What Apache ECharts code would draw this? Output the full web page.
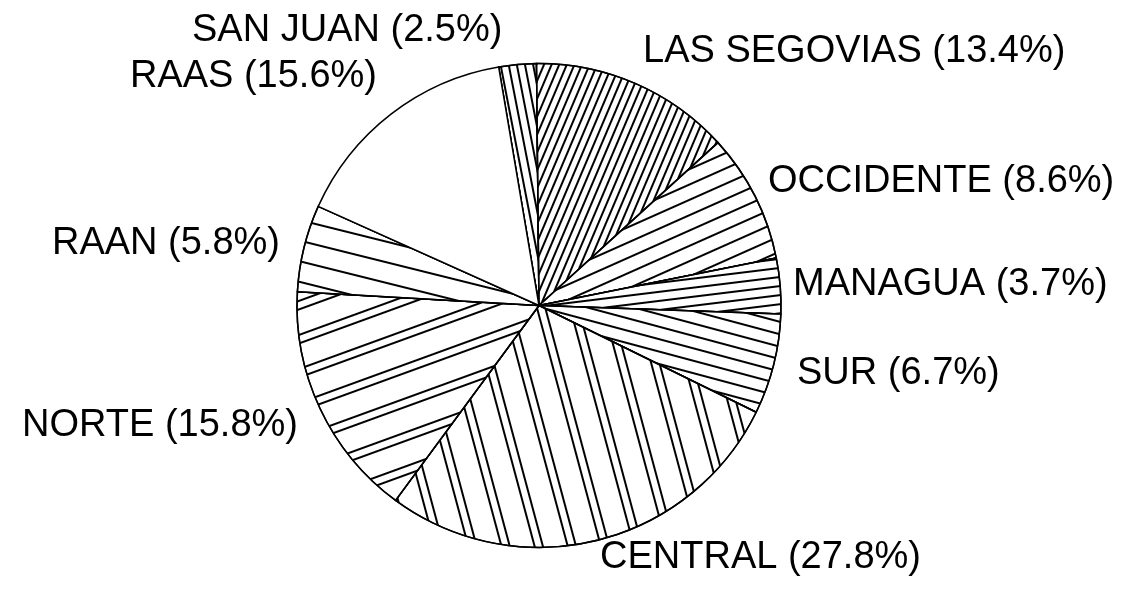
<!DOCTYPE html>
<html>
<head>
<meta charset="utf-8">
<title>Regiones</title>
<script src="https://cdn.jsdelivr.net/npm/echarts@6/dist/echarts.min.js"></script>
<style>
  html, body { margin: 0; padding: 0; background: #fff; }
  #chart { width: 1138px; height: 596px; }
</style>
</head>
<body>
<div id="chart"></div>
<script>
// datos (porcentajes)
const regions = ["SAN JUAN", "LAS SEGOVIAS", "OCCIDENTE", "MANAGUA", "SUR", "CENTRAL", "NORTE", "RAAN", "RAAS"];
const shares = [2.5, 13.4, 8.6, 3.7, 6.7, 27.8, 15.8, 5.8, 15.6];

// rayado de cada sector: angulo de las lineas (grados, positivo = sube a la derecha) y patron perpendicular
const hatchAngle = [-79, 67, 24, 7, -15, -75, 20, -14, 0];
const hatchDash = [
  [1.5, 5.5],
  [1.5, 4.5],
  [1.5, 11.5],
  [1.5, 6.5],
  [1.5, 9.5],
  [1.5, 5.5, 1.5, 22],
  [1.5, 6, 1.5, 22],
  [1.5, 18],
  null,
];

// donde va cada etiqueta: [x, y, alineacion]
const labelAnchor = [
  [192, 31, "left"],
  [643, 52, "left"],
  [768, 182, "left"],
  [793, 285, "left"],
  [797, 374, "left"],
  [600, 558, "left"],
  [298, 426, "right"],
  [280, 244, "right"],
  [377, 77, "right"],
];

const chart = echarts.init(document.getElementById("chart"));

const data = regions.map((name, i) => {
  const item = {
    name: name,
    value: shares[i],
    itemStyle: { color: "#fff" },
  };
  if (hatchDash[i]) {
    item.itemStyle.decal = {
      symbol: "rect",
      symbolSize: 1,
      color: "#000",
      dashArrayX: [1, 0],
      dashArrayY: hatchDash[i],
      rotation: (-hatchAngle[i] * Math.PI) / 180,
    };
  }
  return item;
});

const option = {
  backgroundColor: "#fff",
  animation: false,
  series: [
    {
      type: "pie",
      center: [539, 305.5],
      radius: 242,
      startAngle: 99.6,
      clockwise: true,
      avoidLabelOverlap: false,
      data: data,
      itemStyle: {
        borderColor: "#000",
        borderWidth: 1.5,
      },
      label: {
        show: true,
        position: "outside",
        formatter: (p) => p.name + " (" + p.value.toFixed(1) + "%)",
        color: "#000",
        fontFamily: "Liberation Sans, Arial, sans-serif",
        fontSize: 38,
      },
      labelLine: { show: false },
      labelLayout: (params) => {
        const a = labelAnchor[params.dataIndex];
        return { x: a[0], y: a[1], align: a[2], verticalAlign: "middle" };
      },
      emphasis: { disabled: true },
    },
  ],
};

chart.setOption(option);
</script>
</body>
</html>
